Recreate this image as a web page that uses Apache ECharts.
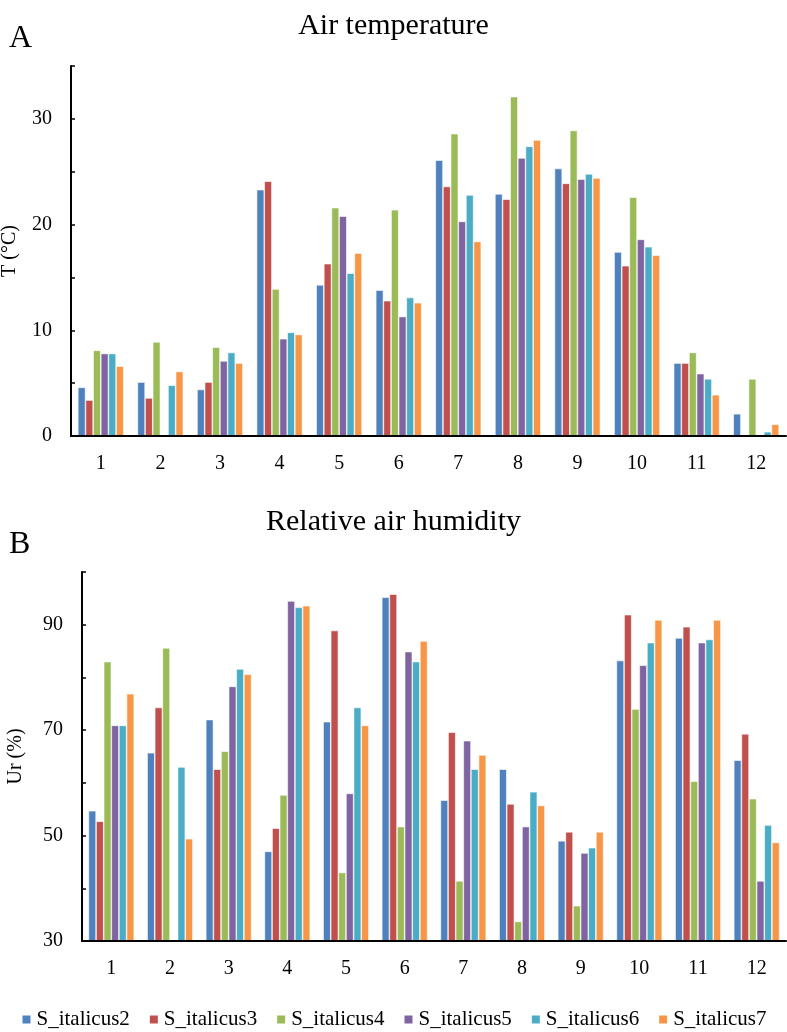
<!DOCTYPE html>
<html>
<head>
    <meta charset="utf-8" />
    <title>Air temperature / Relative air humidity</title>
    <style>
        html, body { margin: 0; padding: 0; background: #fff; }
        #main { width: 787px; height: 1032px; }
    </style>
</head>
<body>
    <div id="main"></div>
    <script src="https://cdn.jsdelivr.net/npm/echarts@6/dist/echarts.min.js"></script>
    <script type="text/javascript">
        // months on the x axis
        var months = ['1', '2', '3', '4', '5', '6', '7', '8', '9', '10', '11', '12'];
        var seriesNames = ['S_italicus2', 'S_italicus3', 'S_italicus4', 'S_italicus5', 'S_italicus6', 'S_italicus7'];
        var colors = ['#4F81BD', '#C0504D', '#9BBB59', '#8064A2', '#4BACC6', '#F79646'];

        // A: air temperature (°C), one array per site
        var tS2 = [4.6, 5.1, 4.4, 23.3, 14.3, 13.8, 26.1, 22.9, 25.3, 17.4, 6.9, 2.1];
        var tS3 = [3.4, 3.6, 5.1, 24.1, 16.3, 12.8, 23.6, 22.4, 23.9, 16.1, 6.9, null];
        var tS4 = [8.1, 8.9, 8.4, 13.9, 21.6, 21.4, 28.6, 32.1, 28.9, 22.6, 7.9, 5.4];
        var tS5 = [7.8, null, 7.1, 9.2, 20.8, 11.3, 20.3, 26.3, 24.3, 18.6, 5.9, null];
        var tS6 = [7.8, 4.8, 7.9, 9.8, 15.4, 13.1, 22.8, 27.4, 24.8, 17.9, 5.4, 0.4];
        var tS7 = [6.6, 6.1, 6.9, 9.6, 17.3, 12.6, 18.4, 28.0, 24.4, 17.1, 3.9, 1.1];

        // B: relative air humidity (%)
        var hS2 = [54.7, 65.7, 72.0, 47.0, 71.6, 95.2, 56.7, 62.6, 49.0, 83.2, 87.5, 64.3];
        var hS3 = [52.7, 74.3, 62.6, 51.4, 88.9, 95.8, 69.6, 56.0, 50.7, 91.9, 89.6, 69.3];
        var hS4 = [83.0, 85.6, 66.0, 57.7, 43.0, 51.7, 41.4, 33.7, 36.7, 74.0, 60.3, 57.0];
        var hS5 = [70.9, null, 78.3, 94.5, 58.0, 84.9, 68.0, 51.7, 46.7, 82.3, 86.6, 41.4];
        var hS6 = [70.9, 63.0, 81.6, 93.3, 74.3, 83.0, 62.6, 58.3, 47.7, 86.6, 87.2, 52.0];
        var hS7 = [76.9, 49.4, 80.6, 93.6, 70.9, 86.9, 65.3, 55.7, 50.7, 90.9, 90.9, 48.7];

        var tempData = [tS2, tS3, tS4, tS5, tS6, tS7];
        var humData = [hS2, hS3, hS4, hS5, hS6, hS7];

        var font = 'Liberation Serif';

        var chart = echarts.init(document.getElementById('main'));

        function xAxisFor(gridIndex) {
            return {
                type: 'category',
                gridIndex: gridIndex,
                data: months,
                z: 5,
                axisLine: { lineStyle: { color: '#000', width: 2 } },
                axisTick: { show: false },
                axisLabel: { color: '#000', fontFamily: font, fontSize: 20, margin: 18 }
            };
        }

        function yAxisFor(gridIndex, name, min, max, interval, nameGap, labelEvery) {
            return {
                type: 'value',
                gridIndex: gridIndex,
                min: min,
                max: max,
                interval: interval,
                name: name,
                nameLocation: 'middle',
                nameRotate: 90,
                nameGap: nameGap,
                nameTextStyle: { color: '#000', fontFamily: font, fontSize: 20 },
                z: 5,
                splitLine: { show: false },
                axisLine: { show: true, lineStyle: { color: '#000', width: 2 } },
                axisTick: { show: true, inside: true, length: 4, lineStyle: { color: '#000', width: 1.5 } },
                axisLabel: {
                    color: '#000', fontFamily: font, fontSize: 20, margin: 19,
                    formatter: function (v) {
                        return (v - min) % labelEvery === 0 ? v : '';
                    }
                }
            };
        }

        var series = [];
        seriesNames.forEach(function (name, i) {
            series.push({
                name: name, type: 'bar', xAxisIndex: 0, yAxisIndex: 0,
                data: tempData[i], barGap: '0%', barCategoryGap: '23%',
                itemStyle: { color: colors[i], borderColor: '#fff', borderWidth: 0.6 }
            });
        });
        seriesNames.forEach(function (name, i) {
            series.push({
                name: name, type: 'bar', xAxisIndex: 1, yAxisIndex: 1,
                data: humData[i], barGap: '0%', barCategoryGap: '22%',
                itemStyle: { color: colors[i], borderColor: '#fff', borderWidth: 0.6 }
            });
        });

        var option = {
            animation: false,
            color: colors,
            textStyle: { fontFamily: font },
            title: [
                { text: 'Air temperature', left: 'center', top: 6,
                  textStyle: { color: '#000', fontFamily: font, fontSize: 30, fontWeight: 'normal' } },
                { text: 'A', left: 4, top: 18,
                  textStyle: { color: '#000', fontFamily: font, fontSize: 32, fontWeight: 'normal' } },
                { text: 'Relative air humidity', left: 'center', top: 502,
                  textStyle: { color: '#000', fontFamily: font, fontSize: 30, fontWeight: 'normal' } },
                { text: 'B', left: 4, top: 524,
                  textStyle: { color: '#000', fontFamily: font, fontSize: 32, fontWeight: 'normal' } }
            ],
            legend: {
                data: seriesNames,
                top: 1004,
                left: 'center',
                icon: 'rect',
                itemWidth: 10,
                itemHeight: 10,
                itemGap: 18,
                textStyle: { color: '#000', fontFamily: font, fontSize: 21 }
            },
            grid: [
                { left: 71, right: 1, top: 66, height: 370, outerBoundsMode: 'none' },
                { left: 82, right: 1, top: 572, height: 369, outerBoundsMode: 'none' }
            ],
            xAxis: [xAxisFor(0), xAxisFor(1)],
            yAxis: [
                yAxisFor(0, 'T (°C)', 0, 35, 5, 51, 10),
                yAxisFor(1, 'Ur (%)', 30, 100, 10, 56, 20)
            ],
            series: series
        };

        chart.setOption(option);
    </script>
</body>
</html>
